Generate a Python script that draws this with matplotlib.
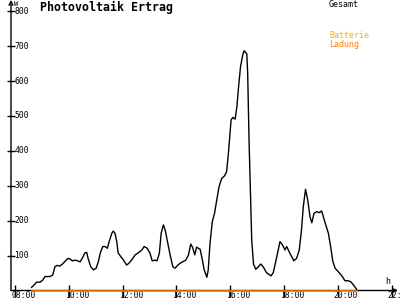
import matplotlib
matplotlib.use("Agg")
import matplotlib.pyplot as plt
import matplotlib.transforms as mtransforms

# --- Daten: Gesamtleistung (W) über die Uhrzeit ---
zeiten = [
    "08:37", "08:45", "08:48", "08:56", "09:02", "09:07", "09:18", "09:24", "09:29", "09:34",
    "09:40", "09:46", "09:52", "09:58", "10:03", "10:08", "10:14", "10:20", "10:25", "10:30",
    "10:36", "10:40", "10:43", "10:49", "10:55", "11:01", "11:06", "11:10", "11:16", "11:21",
    "11:26", "11:30", "11:36", "11:39", "11:43", "11:47", "11:50", "11:56", "12:02", "12:09",
    "12:14", "12:20", "12:28", "12:35", "12:43", "12:48", "12:55", "13:01", "13:06", "13:12",
    "13:17", "13:22", "13:26", "13:31", "13:35", "13:40", "13:46", "13:52", "13:57", "14:02",
    "14:08", "14:15", "14:21", "14:27", "14:32", "14:36", "14:41", "14:45", "14:53", "14:58",
    "15:02", "15:08", "15:11", "15:15", "15:20", "15:25", "15:30", "15:35", "15:41", "15:47",
    "15:52", "15:56", "15:59", "16:02", "16:06", "16:11", "16:15", "16:18", "16:23", "16:28",
    "16:31", "16:37", "16:39", "16:42", "16:45", "16:48", "16:52", "16:57", "17:03", "17:08",
    "17:14", "17:21", "17:31", "17:36", "17:44", "17:51", "17:57", "18:02", "18:06", "18:13",
    "18:22", "18:28", "18:34", "18:39", "18:43", "18:48", "18:53", "18:58", "19:02", "19:07",
    "19:13", "19:19", "19:24", "19:31", "19:39", "19:44", "19:49", "19:54", "20:01", "20:09",
    "20:16", "20:23", "20:29", "20:35", "20:42",
]
gesamt = [
    9, 19, 24, 24, 30, 40, 40, 44, 68, 72,
    70, 76, 84, 92, 90, 85, 87, 85, 82, 92,
    108, 109, 92, 68, 59, 64, 83, 107, 126, 126,
    121, 140, 164, 170, 164, 140, 108, 97, 87, 73,
    78, 87, 102, 108, 116, 126, 121, 107, 85, 87,
    85, 107, 164, 188, 173, 140, 102, 68, 64, 71,
    78, 83, 87, 102, 133, 124, 102, 124, 118, 87,
    59, 38, 59, 135, 197, 221, 259, 297, 321, 328,
    340, 393, 441, 489, 496, 491, 527, 574, 641, 675,
    687, 678, 622, 431, 288, 145, 76, 61, 68, 76,
    67, 51, 42, 51, 97, 140, 130, 116, 126, 107,
    85, 92, 116, 173, 240, 290, 259, 211, 194, 221,
    226, 223, 228, 197, 164, 126, 83, 64, 54, 42,
    28, 28, 25, 16, 3,
]
# Batterieladung war den ganzen Tag 0
ladung = [0] * len(zeiten)

y_ticks = [100, 200, 300, 400, 500, 600, 700, 800]
x_ticks = [8, 10, 12, 14, 16, 18, 20, 22]
x_labels = ["08:00", "10:00", "12:00", "14:00", "16:00", "18:00", "20:00", "22:00"]


def in_stunden(s):
    h, m = s.split(":")
    return int(h) + int(m) / 60


t = [in_stunden(z) for z in zeiten]

mono = "DejaVu Sans Mono"
orange = "#ff8000"
gelb = "#ffb000"

fig = plt.figure(figsize=(4, 3), dpi=100)
fig.patch.set_facecolor("white")
ax = fig.add_axes([11 / 400, 9.5 / 300, 387 / 400, 289.5 / 300])
ax.set_xlim(7.8513, 22.238)
ax.set_ylim(0, 829.5)

ax.plot(t, gesamt, color="black", lw=1, zorder=3)
ax.plot(t, ladung, color=orange, lw=1.2, zorder=4, clip_on=False)

# Achsen als Pfeile
for s in ax.spines.values():
    s.set_visible(False)
ax.annotate("", xy=(0, 1.004), xytext=(0, 0), xycoords="axes fraction",
            arrowprops=dict(arrowstyle="->", lw=1, color="black",
                            shrinkA=0, shrinkB=0, mutation_scale=7))
ax.annotate("", xy=(1.0, 0), xytext=(0, 0), xycoords="axes fraction",
            arrowprops=dict(arrowstyle="->", lw=1, color="black",
                            shrinkA=0, shrinkB=0, mutation_scale=7))

ax.set_xticks(x_ticks)
ax.set_yticks(y_ticks)
ax.set_xticklabels([])
ax.set_yticklabels([])
ax.tick_params(axis="x", direction="inout", length=9, width=1)
ax.tick_params(axis="y", direction="inout", length=6, width=1)

# Beschriftungen innerhalb der Achse
ylab_tr = ax.get_yaxis_transform() + mtransforms.ScaledTranslation(3.5 / 100, 0, fig.dpi_scale_trans)
for v in y_ticks:
    ax.text(0, v, str(v), transform=ylab_tr, ha="left", va="center",
            family=mono, fontsize=5.8)

xlab_tr = ax.get_xaxis_transform() + mtransforms.ScaledTranslation(-4 / 100, -5 / 100, fig.dpi_scale_trans)
for v, lab in zip(x_ticks, x_labels):
    ax.text(v, 0, lab, transform=xlab_tr, ha="left", va="center",
            family=mono, fontsize=5.8, clip_on=False)

fig.text(40 / 400, 1 - 7.5 / 300, "Photovoltaik Ertrag", ha="left", va="center",
         family=mono, fontsize=8.4, fontweight="bold")
fig.text(14 / 400, 1 - 3.5 / 300, "W", ha="left", va="center", family=mono, fontsize=5)
fig.text(385 / 400, 1 - 281 / 300, "h", ha="left", va="center", family=mono, fontsize=6)
fig.text(329 / 400, 1 - 4.5 / 300, "Gesamt", ha="left", va="center", family=mono, fontsize=6)
fig.text(329 / 400, 1 - 36 / 300, "Batterie", ha="left", va="center", family=mono,
         fontsize=6, color=gelb)
fig.text(329 / 400, 1 - 44 / 300, "Ladung", ha="left", va="center", family=mono,
         fontsize=6, color=orange)

fig.savefig("out.png", dpi=100, facecolor="white")
